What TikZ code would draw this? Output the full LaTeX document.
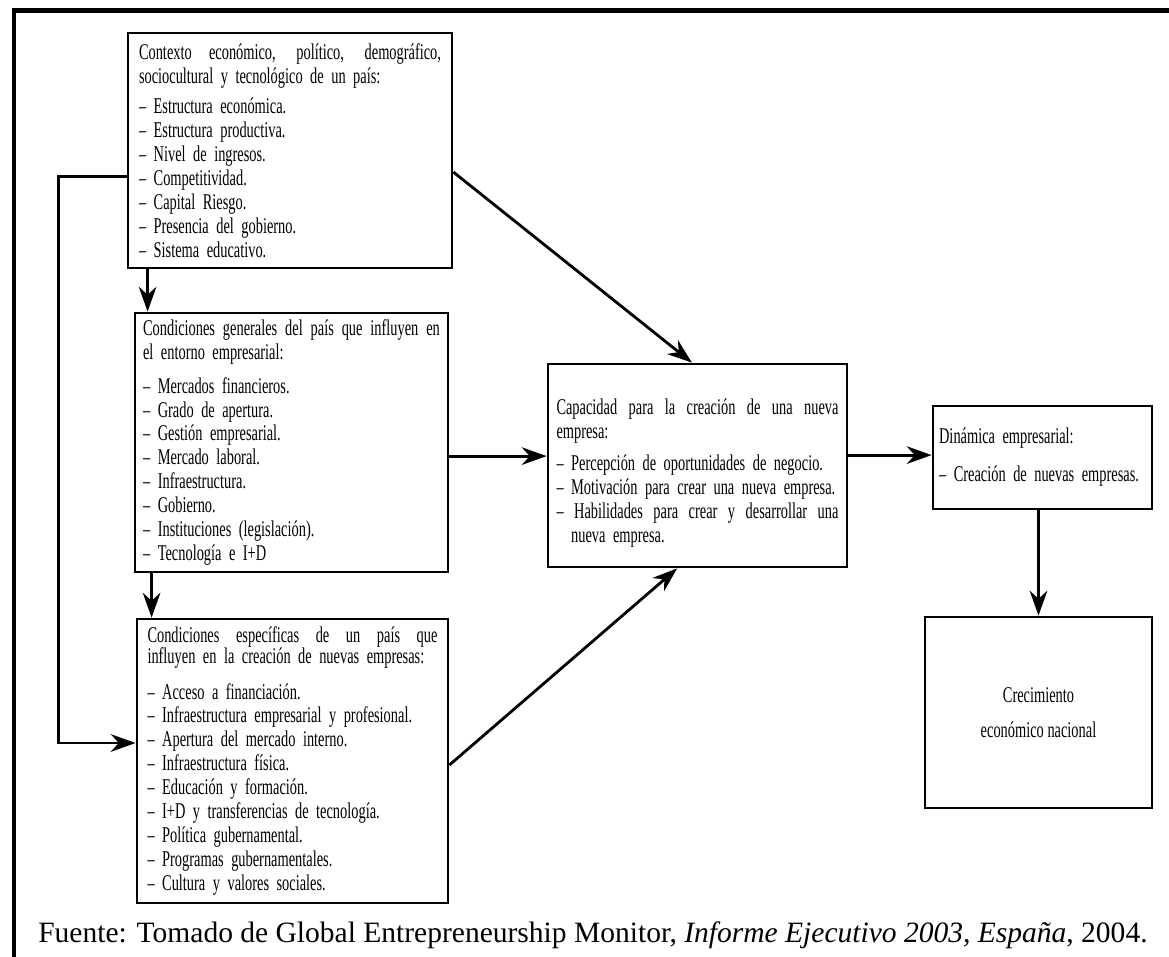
\documentclass[tikz,border=0pt]{standalone}
\usepackage{fontspec}
\setmainfont{Liberation Serif}
\newfontfamily\cajafont[FakeStretch=0.64]{Liberation Serif}
\usetikzlibrary{arrows.meta}

\hyphenpenalty=10000
\exhyphenpenalty=10000
\newcommand{\lineaj}[1]{{\spaceskip=\fontdimen2\font plus 1fil\relax\makebox[\hsize][s]{#1}}}

\begin{document}
\begin{tikzpicture}[
    caja/.style={draw, line width=2pt, inner xsep=0.15cm, inner ysep=0pt, align=left,
                 font=\cajafont\fontsize{16}{17}\selectfont},
    flecha/.style={line width=2pt, -{Stealth[length=0.62cm,width=0.44cm,inset=0.2cm]}}
]
    \useasboundingbox (0,0) rectangle (29.225,-23.925);

    % 外框
    \draw[line width=3.2pt] (0.35,-23.925) -- (0.35,-0.2625) -- (29.225,-0.2625);

    % 左列方框
    \node[caja, minimum width=8.1cm, minimum height=5.875cm, text width=7.55cm] (ctx) at (7.25,-3.7625) {
        \lineaj{Contexto económico, político, demográfico,}\\
        sociocultural y tecnológico de un país:\\[5pt]
        – Estructura económica.\\
        – Estructura productiva.\\
        – Nivel de ingresos.\\
        – Competitividad.\\
        – Capital Riesgo.\\
        – Presencia del gobierno.\\
        – Sistema educativo.};
    \node[caja, minimum width=7.825cm, minimum height=6.475cm, text width=7.42cm] (gen) at (7.2875,-11.0625) {
        \lineaj{Condiciones generales del país que influyen en}\\
        el entorno empresarial:\\[7pt]
        – Mercados financieros.\\
        – Grado de apertura.\\
        – Gestión empresarial.\\
        – Mercado laboral.\\
        – Infraestructura.\\
        – Gobierno.\\
        – Instituciones (legislación).\\
        – Tecnología e I+D};
    \node[caja, minimum width=7.775cm, minimum height=7.1cm, text width=7.25cm] (esp) at (7.3125,-19.025) {
        \lineaj{Condiciones específicas de un país que}\\[-2pt]
        influyen en la creación de nuevas empresas:\\[8pt]
        – Acceso a financiación.\\
        – Infraestructura empresarial y profesional.\\
        – Apertura del mercado interno.\\
        – Infraestructura física.\\
        – Educación y formación.\\
        – I+D y transferencias de tecnología.\\
        – Política gubernamental.\\
        – Programas gubernamentales.\\
        – Cultura y valores sociales.};

    % 中间和右边
    \node[caja, minimum width=7.475cm, minimum height=5.075cm, text width=7.05cm] (cap) at (17.4375,-11.6375) {
        \rule{0pt}{22pt}\lineaj{Capacidad para la creación de una nueva}\\
        empresa:\\[6pt]
        – Percepción de oportunidades de negocio.\\
        – Motivación para crear una nueva empresa.\\
        \lineaj{– Habilidades para crear y desarrollar una}\\
        \phantom{– }nueva empresa.};
    \node[caja, minimum width=5.475cm, minimum height=2.575cm, text width=5.17cm] (din) at (26.0625,-11.4375) {
        Dinámica empresarial:\\[10pt]
        – Creación de nuevas empresas.};
    \node[caja, align=center, minimum width=5.675cm, minimum height=4.775cm] (crec) at (25.9625,-17.8125) {
        Crecimiento\\[8pt]
        económico nacional};

    % 箭头
    \draw[flecha] ([xshift=0.35cm]gen.north west |- ctx.south) -- ([xshift=0.35cm]gen.north west);
    \draw[flecha] ([xshift=0.4cm]esp.north west |- gen.south) -- ([xshift=0.4cm]esp.north west);
    \draw[flecha] ([yshift=-0.65cm]ctx.west) -- ++(-1.7,0) |- ([yshift=0.45cm]esp.west);
    \draw[flecha] ([yshift=-0.54cm]ctx.east) -- ([xshift=-0.14cm]cap.north);
    \draw[flecha] ([yshift=-0.34cm]gen.east) -- ([yshift=-0.34cm]gen.east -| cap.west);
    \draw[flecha] ([yshift=-0.1cm]esp.east) -- ([xshift=-0.51cm]cap.south);
    \draw[flecha] ([yshift=0.26cm]cap.east) -- ([yshift=0.26cm]cap.east -| din.west);
    \draw[flecha] (crec.north |- din.south) -- (crec.north);

    % 来源
    \node[anchor=west, inner sep=0pt, font=\fontsize{21}{24}\selectfont] (fuente) at (0.95,-23.375)
        {Fuente: Tomado de Global Entrepreneurship Monitor, \textit{Informe Ejecutivo 2003, España}, 2004.};
\end{tikzpicture}
\end{document}
